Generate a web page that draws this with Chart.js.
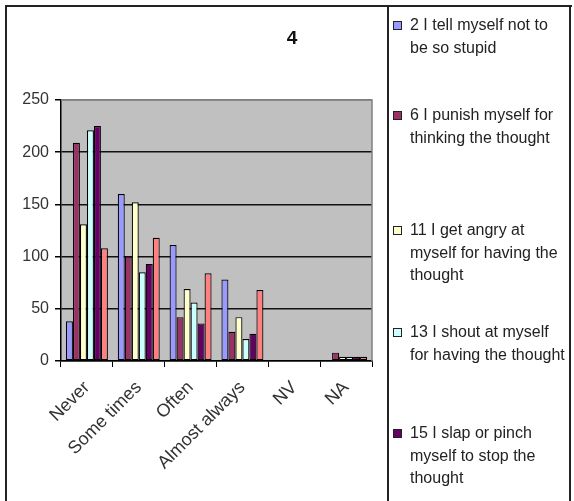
<!DOCTYPE html>
<html>
<head>
<meta charset="utf-8">
<script src="https://cdn.jsdelivr.net/npm/chart.js@4.4.0/dist/chart.umd.min.js"></script>
<style>
  html, body { margin: 0; padding: 0; background: #fff; }
  body { width: 574px; height: 501px; position: relative; overflow: hidden;
         font-family: "Liberation Sans", Arial, sans-serif; }
  #wrap { position: absolute; left: 0; top: 0; width: 388px; height: 501px; }
  .frame { position: absolute; background: #222; }
  #title { position: absolute; left: 282px; top: 27px; width: 20px; text-align: center;
           font-weight: bold; font-size: 19px; color: #111; }
  .item { position: absolute; left: 410px; width: 165px; font-size: 16px; line-height: 22.5px; color: #222; }
  .sw { position: absolute; left: 393px; width: 7px; height: 7px; border: 1px solid #222; }
</style>
</head>
<body>
<div id="wrap"><canvas id="c" width="388" height="501"></canvas></div>
<div class="frame" style="left:5px;top:5px;width:567px;height:2px;"></div>
<div class="frame" style="left:5px;top:5px;width:2px;height:496px;"></div>
<div class="frame" style="left:387px;top:5px;width:2px;height:496px;"></div>
<div class="frame" style="left:569px;top:5px;width:2px;height:496px;"></div>
<div id="title">4</div>
<div id="legend"></div>
<script>
const categories = ["Never", "Some times", "Often", "Almost always", "NV", "NA"];
const seriesNames = [
  "2 I tell myself not to be so stupid",
  "6 I punish myself for thinking the thought",
  "11 I get angry at myself for having the thought",
  "13 I shout at myself for having the thought",
  "15 I slap or pinch myself to stop the thought",
  "Series 6"
];
const s2  = [38, 160, 111, 78, 0, 1];
const s6  = [209, 100, 42, 28, 0, 8];
const s11 = [131, 152, 69, 42, 0, 4];
const s13 = [221, 85, 56, 21, 1, 4];
const s15 = [225, 93, 36, 26, 1, 4];
const s6b = [108, 118, 84, 68, 0, 4];
const yTicks = [0, 50, 100, 150, 200, 250];

const colors = ["#9999FF", "#993366", "#FFFFCC", "#CCFFFF", "#660066", "#FF8080"];
const values = [s2, s6, s11, s13, s15, s6b];

// HTML legend (first five series shown, as in the reference)
const legendLines = [
  ["2 I tell myself not to", "be so stupid"],
  ["6 I punish myself for", "thinking the thought"],
  ["11 I get angry at", "myself for having the", "thought"],
  ["13 I shout at myself", "for having the thought"],
  ["15 I slap or pinch", "myself to stop the", "thought"]
];
const legendTops = [14, 104, 219, 321, 422];
const lg = document.getElementById("legend");
legendLines.forEach((lines, i) => {
  const sw = document.createElement("div");
  sw.className = "sw";
  sw.style.top = (legendTops[i] + 7) + "px";
  sw.style.background = colors[i];
  lg.appendChild(sw);
  const d = document.createElement("div");
  d.className = "item";
  d.style.top = legendTops[i] + "px";
  d.innerHTML = lines.join("<br>");
  lg.appendChild(d);
});

const bgPlugin = {
  id: "bg",
  beforeDraw(chart) {
    const {ctx, chartArea: a} = chart;
    ctx.save();
    ctx.fillStyle = "#C0C0C0";
    ctx.fillRect(a.left, a.top, a.right - a.left, a.bottom - a.top);
    ctx.restore();
  },
  beforeDatasetsDraw(chart) {
    const {ctx, chartArea: a} = chart;
    ctx.save();
    ctx.strokeStyle = "#808080";
    ctx.lineWidth = 1.5;
    ctx.beginPath();
    ctx.moveTo(a.left, a.top);
    ctx.lineTo(a.right, a.top);
    ctx.lineTo(a.right, a.bottom);
    ctx.stroke();
    ctx.restore();
  }
};

const font = {family: "'Liberation Sans', Arial, sans-serif", size: 16};
const xfont = {family: "'Liberation Sans', Arial, sans-serif", size: 18};

new Chart(document.getElementById("c"), {
  type: "bar",
  data: {
    labels: categories,
    datasets: values.map((v, i) => ({
      label: seriesNames[i],
      data: v,
      backgroundColor: colors[i],
      borderColor: "#000",
      borderWidth: 1.2,
      borderSkipped: false,
      categoryPercentage: 0.81,
      barPercentage: 1.0
    }))
  },
  options: {
    responsive: false,
    animation: false,
    layout: {padding: {top: 100, right: 16, left: 0, bottom: 0}},
    plugins: {legend: {display: false}, title: {display: false}, tooltip: {enabled: false}},
    scales: {
      x: {
        offset: true,
        grid: {drawOnChartArea: false, drawTicks: true, tickLength: 6, tickColor: "#000", offset: true},
        border: {display: true, color: "#000", width: 1.5},
        ticks: {minRotation: 45, maxRotation: 45, font: xfont, color: "#333", padding: 10},
        afterFit(s) { s.height = 140; }
      },
      y: {
        min: 0, max: 250,
        afterBuildTicks(s) { s.ticks = yTicks.map(v => ({value: v})); },
        grid: {
          color: (c) => c.tick && c.tick.value === 250 ? "#808080" : "#111",
          lineWidth: 1.5,
          tickLength: 6, tickColor: "#000"
        },
        border: {display: true, color: "#000", width: 1.5},
        ticks: {font: font, color: "#333", padding: 6},
        afterFit(s) { s.width = 61; }
      }
    }
  },
  plugins: [bgPlugin]
});
</script>
</body>
</html>
